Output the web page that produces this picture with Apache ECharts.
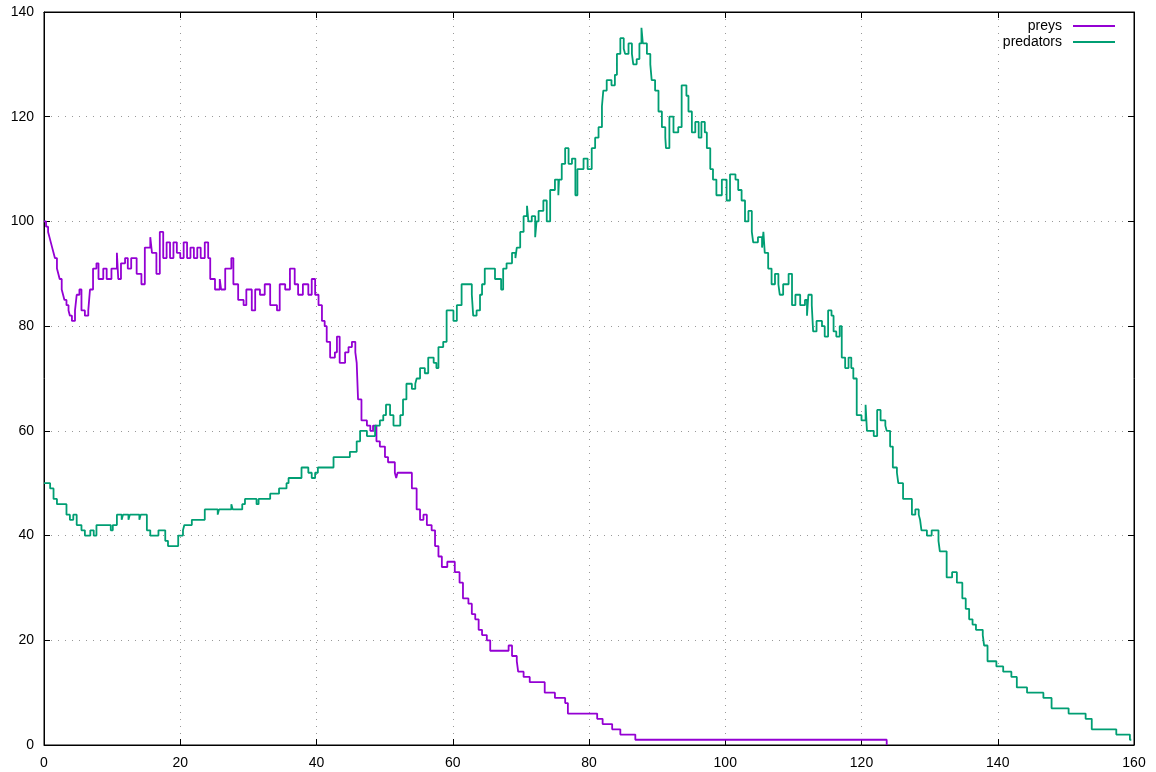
<!DOCTYPE html>
<html>
<head>
<meta charset="utf-8">
<script src="https://cdn.jsdelivr.net/npm/echarts@6/dist/echarts.min.js"></script>
<style>html,body{margin:0;padding:0;background:#fff}#c{width:1156px;height:772px}</style>
</head>
<body>
<div id="c"></div>
<script>
const xTicks = [0, 20, 40, 60, 80, 100, 120, 140, 160];
const yTicks = [0, 20, 40, 60, 80, 100, 120, 140];
const seriesNames = ['preys', 'predators'];

const preysT = [0,0.3,0.6,0.8,1.0,1.2,1.4,1.6,1.9,2.1,2.3,2.6,2.8,3.0,3.3,3.6,3.8,4.1,4.55,4.8,5.2,5.5,6.0,6.5,6.75,7.2,7.7,8.0,8.7,9.2,9.9,10.7,10.9,11.3,11.9,12.3,12.8,13.6,14.3,14.8,15.6,15.85,16.5,17.0,17.5,18.0,18.5,19.0,19.5,20.0,20.5,21.0,21.5,22.0,22.5,23.0,23.6,24.1,24.4,25.1,25.8,26.0,26.6,27.5,27.8,28.5,29.3,29.7,30.5,31.0,31.7,32.4,33.2,34.2,34.6,35.4,36.1,36.8,37.3,38.0,38.8,39.3,39.8,40.3,40.8,41.2,41.5,42.0,42.7,43.0,43.4,44.2,44.7,45.2,45.7,45.9,46.1,46.6,47.4,47.9,48.3,48.8,49.3,50.05,50.5,51.5,51.7,51.9,53.5,54.0,54.7,55.2,55.7,56.2,56.9,57.4,57.9,58.4,59.2,60.3,61.0,61.5,62.3,62.8,63.3,63.8,64.3,65.0,65.5,67.7,68.2,68.7,69.4,69.6,70.4,71.3,73.5,75.0,76.5,76.9,80.1,81.2,82.0,83.4,84.6,86.8,123.7];
const preysV = [100,99,98,97,96,95,94,93,91,90,89,87,86,85,84,83,82,81,83,86,87,83,82,83,87,91,92,89,91,89,91,94,89,92,93,91,93,90,88,95,97,94,90,98,93,96,93,96,94,93,96,93,95,93,95,93,96,93,89,87,89,87,91,93,88,85,84,87,83,87,86,88,84,83,88,87,91,88,86,88,86,89,86,84,81,80,77,74,75,78,73,75,76,77,75,73,66,62,61,60,61,58,57,55,54,52,51,52,52,49,45,43,44,42,41,38,36,34,35,33,31,28,27,25,24,22,21,20,18,18,19,17,16,14,13,12,10,9,8,6,6,5,4,3,2,1,0];

const predT = [0,0.9,1.4,1.9,3.3,3.8,4.3,4.8,5.5,6.0,6.8,7.3,7.7,9.8,10.1,10.7,11.4,11.6,12.4,12.6,14.0,14.2,15.1,15.6,16.8,17.8,18.2,19.7,20.4,20.6,21.7,23.6,25.5,25.7,27.5,27.7,28.8,29.1,29.5,31.2,31.5,33.2,34.5,35.6,35.9,37.8,38.8,39.3,39.8,40.2,42.5,44.9,45.9,46.4,47.4,48.6,49.3,49.8,50.2,50.8,51.3,52.3,52.7,53.2,54.0,54.5,54.7,55.2,55.9,56.4,57.2,57.6,57.9,58.6,59.1,60.1,60.6,61.3,62.8,63.0,63.5,64.0,64.3,64.7,66.2,67.1,67.4,67.9,68.7,69.2,69.4,69.9,70.4,70.9,71.1,71.6,72.1,72.3,72.6,73.3,73.8,74.3,75.0,75.5,75.6,76.0,76.5,77.0,77.5,78.0,78.3,79.2,79.8,80.4,80.9,81.4,81.9,82.1,82.6,83.3,83.8,84.1,84.6,85.1,85.3,85.8,86.3,86.5,87.0,87.4,87.7,87.9,88.5,89.0,89.2,89.7,90.2,90.7,91.2,91.3,91.8,92.4,93.1,93.6,94.3,94.6,95.1,95.6,96.1,96.5,97.0,97.3,97.8,98.2,98.7,99.5,100.2,100.7,101.5,101.9,102.4,102.9,103.4,103.9,104.1,104.8,105.4,105.6,105.8,106.3,106.8,107.3,107.8,108.0,108.5,109.3,109.8,110.3,111.0,111.7,112.0,112.2,112.7,112.9,113.4,114.2,114.6,115.1,115.6,115.9,116.3,116.8,117.1,117.6,118.1,118.5,118.8,119.3,120.0,120.6,120.8,121.8,122.3,122.8,123.5,123.7,124.2,124.6,125.2,125.4,126.1,127.4,127.9,128.4,128.6,128.8,129.6,130.3,131.3,131.5,132.5,133.3,134.0,134.8,135.3,135.8,136.3,136.8,137.8,138.0,138.5,139.8,140.8,142.0,142.8,144.3,146.7,147.9,150.4,152.9,153.8,157.4,159.4,159.6];
const predV = [50,49,47,46,44,43,44,42,41,40,41,40,42,41,42,44,43,44,43,44,43,44,41,40,41,39,38,40,41,42,43,45,44,45,46,45,45,46,47,46,47,48,49,50,51,53,52,51,52,53,55,56,58,60,59,61,62,63,65,63,61,63,66,69,68,69,70,72,71,74,73,72,76,77,83,81,84,88,86,82,83,86,88,91,89,87,91,92,94,93,95,98,101,103,100,101,97,100,102,104,100,106,108,105,108,111,114,111,112,105,110,112,110,114,116,118,122,125,127,126,128,132,135,133,132,134,132,130,131,134,137,134,132,130,127,125,121,118,116,114,120,117,118,126,124,121,117,119,116,119,117,114,110,108,105,108,104,109,108,106,104,100,102,98,96,97,95,98,94,91,88,90,88,86,88,90,84,86,84,85,82,86,84,79,81,80,78,83,82,79,78,80,74,72,74,72,70,63,62,65,60,59,64,62,61,60,57,53,52,50,47,44,45,44,43,41,40,41,39,37,32,33,31,28,26,24,23,22,21,19,16,15,14,13,11,10,9,7,6,5,3,2,1,1];

function pairs(t, v) { return t.map((x, i) => [x, v[i]]); }

const font = 'Liberation Sans, Arial, Helvetica, sans-serif';
const chart = echarts.init(document.getElementById('c'));
const dotted = { show: true, lineStyle: { color: '#999', width: 1, type: [1, 6] } };
chart.setOption({
  animation: false,
  backgroundColor: '#fff',
  grid: { left: 44, right: 22, top: 12, bottom: 27, show: true, borderColor: '#000', borderWidth: 1, containLabel: false },
  legend: {
    data: seriesNames,
    orient: 'vertical', align: 'right', right: 40, top: 19, padding: 0,
    itemWidth: 42, itemHeight: 14, itemGap: 2,
    itemStyle: { opacity: 0 },
    textStyle: { fontFamily: font, fontSize: 14, color: '#000', padding: [0, 6, 0, 0] }
  },
  xAxis: [
    { type: 'value', min: xTicks[0], max: xTicks[xTicks.length - 1], interval: 20, position: 'bottom',
      axisLine: { show: true, onZero: false, lineStyle: { color: '#000', width: 1 } },
      axisTick: { show: true, inside: true, length: 6, lineStyle: { color: '#000' } },
      axisLabel: { margin: 11, fontFamily: font, fontSize: 14, color: '#000' },
      splitLine: dotted },
    { type: 'value', min: xTicks[0], max: xTicks[xTicks.length - 1], interval: 20, position: 'top',
      axisLine: { show: true, onZero: false, lineStyle: { color: '#000', width: 1 } },
      axisTick: { show: true, inside: true, length: 6, lineStyle: { color: '#000' } },
      axisLabel: { show: false }, splitLine: { show: false } }
  ],
  yAxis: [
    { type: 'value', min: yTicks[0], max: yTicks[yTicks.length - 1], interval: 20, position: 'left',
      axisLine: { show: true, onZero: false, lineStyle: { color: '#000', width: 1 } },
      axisTick: { show: true, inside: true, length: 6, lineStyle: { color: '#000' } },
      axisLabel: { margin: 10, fontFamily: font, fontSize: 14, color: '#000' },
      splitLine: dotted },
    { type: 'value', min: yTicks[0], max: yTicks[yTicks.length - 1], interval: 20, position: 'right',
      axisLine: { show: true, onZero: false, lineStyle: { color: '#000', width: 1 } },
      axisTick: { show: true, inside: true, length: 6, lineStyle: { color: '#000' } },
      axisLabel: { show: false }, splitLine: { show: false } }
  ],
  series: [
    { name: seriesNames[0], type: 'line', step: 'end', data: pairs(preysT, preysV),
      symbol: 'none', showSymbol: false, color: '#9400d3', lineStyle: { color: '#9400d3', width: 1.8 } },
    { name: seriesNames[1], type: 'line', step: 'end', data: pairs(predT, predV),
      symbol: 'none', showSymbol: false, color: '#009e73', lineStyle: { color: '#009e73', width: 1.8 } }
  ]
});
</script>
</body>
</html>
